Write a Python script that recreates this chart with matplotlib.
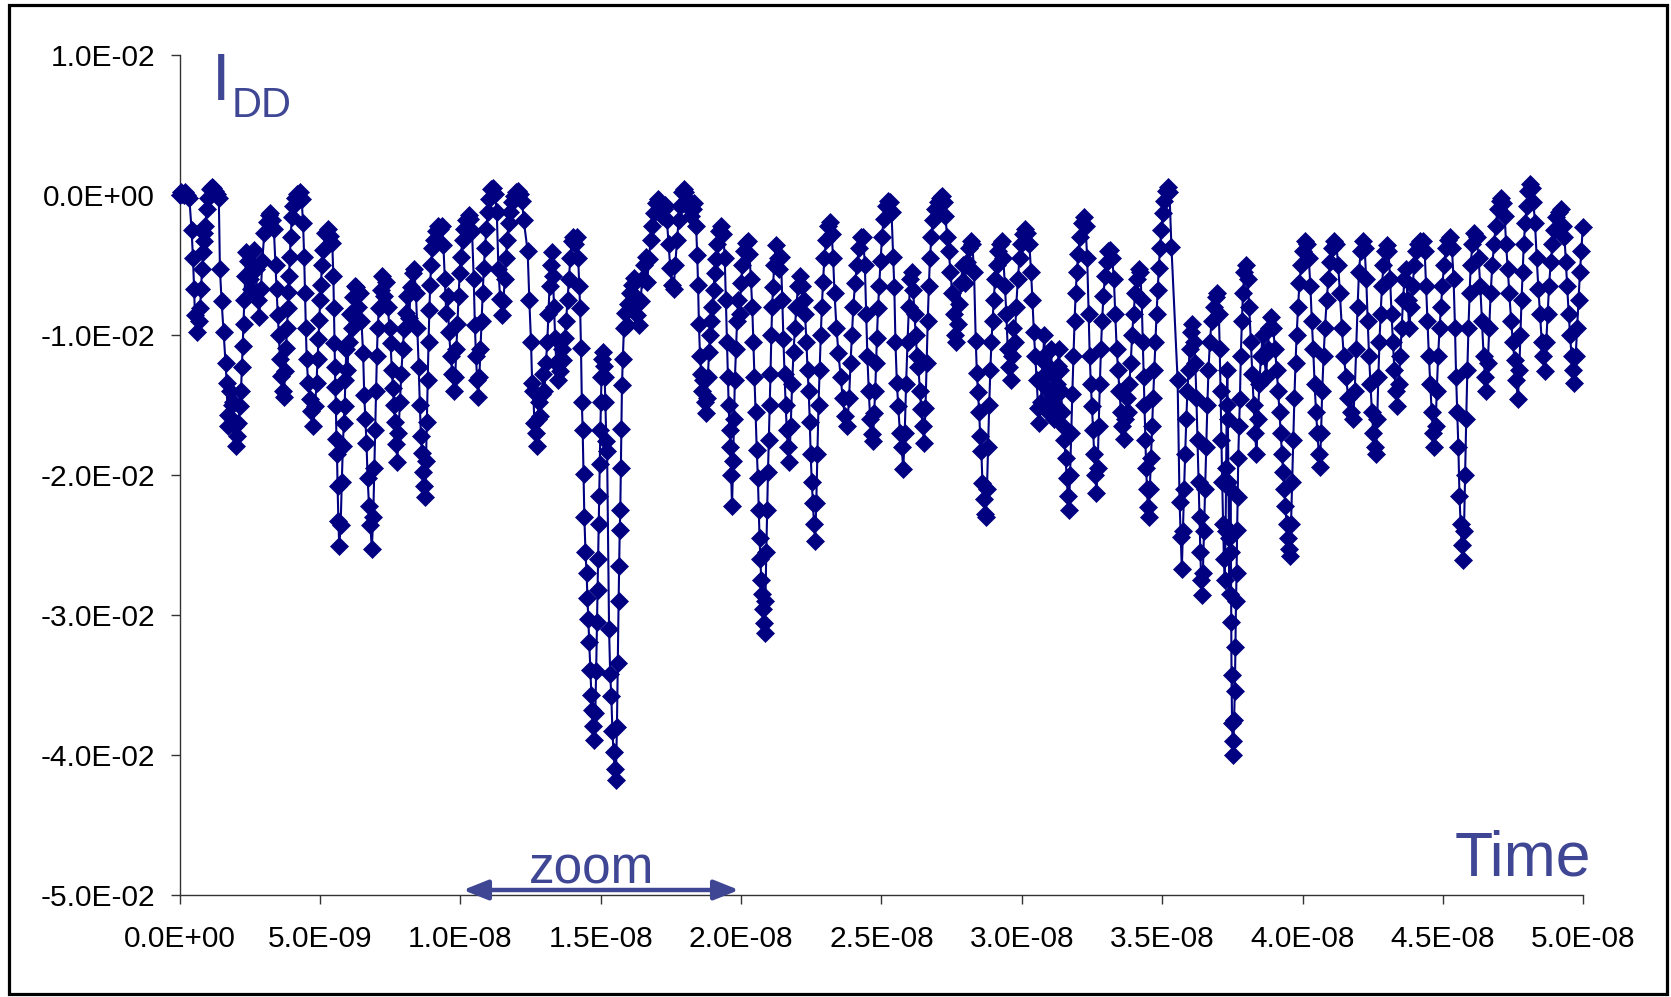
import numpy as np
import matplotlib
matplotlib.use("Agg")
import matplotlib.pyplot as plt
from matplotlib.patches import Rectangle
from matplotlib.lines import Line2D
from matplotlib.ticker import FuncFormatter

# ---- data: (time in ns, I_DD in mA) ----
seg_a = [(0.00, 0.0), (0.05, 0.2), (0.10, 0.1), (0.15, 0.0), (0.20, 0.2), (0.27, 0.0), (0.35, -0.2),
         (0.43, -2.5), (0.48, -4.5), (0.52, -6.7), (0.55, -8.6), (0.61, -9.8), (0.68, -9.0), (0.73, -8.1),
         (0.77, -6.7), (0.80, -5.3), (0.84, -4.1), (0.86, -3.3), (0.89, -2.7), (0.92, -2.2), (0.97, -1.0),
         (1.03, -0.2), (1.09, 0.4), (1.15, 0.6), (1.21, 0.5), (1.27, 0.3), (1.33, 0.1), (1.40, -0.2),
         (1.44, -5.3), (1.50, -7.6), (1.57, -9.8), (1.64, -12.0), (1.68, -13.4), (1.71, -15.7), (1.74, -16.5),
         (1.80, -14.0), (1.86, -15.0), (1.92, -14.8), (1.96, -16.5), (2.00, -17.9), (2.04, -17.2), (2.10, -16.3),
         (2.15, -15.1), (2.19, -14.0), (2.22, -12.3), (2.25, -10.8), (2.28, -9.2), (2.31, -7.5), (2.34, -5.8),
         (2.38, -4.1), (2.44, -4.7), (2.50, -6.0), (2.55, -6.7), (2.60, -5.5), (2.66, -3.9), (2.72, -5.3),
         (2.78, -7.5), (2.84, -8.7), (2.90, -6.7), (2.95, -4.7), (3.02, -2.7), (3.10, -1.9), (3.17, -1.4),
         (3.24, -1.3), (3.30, -1.8), (3.36, -2.4), (3.42, -5.0), (3.46, -6.7), (3.50, -8.6), (3.54, -10.0),
         (3.58, -11.7), (3.63, -12.9), (3.68, -14.0), (3.72, -14.4), (3.76, -12.6), (3.80, -10.9), (3.83, -9.5),
         (3.86, -8.1), (3.88, -6.9), (3.90, -5.8), (3.93, -4.4), (3.96, -3.0), (4.00, -1.6), (4.05, -0.8),
         (4.12, -0.2), (4.20, 0.1), (4.28, 0.2), (4.35, -0.3), (4.40, -2.0), (4.44, -4.4), (4.47, -7.0),
         (4.50, -9.5), (4.53, -11.7), (4.58, -13.4), (4.64, -14.6), (4.70, -15.4), (4.76, -16.5), (4.83, -15.1),
         (4.88, -13.4), (4.92, -11.7), (4.95, -10.3), (4.98, -8.9), (5.01, -7.5), (5.04, -6.4), (5.07, -5.0),
         (5.12, -3.9), (5.20, -2.7), (5.28, -2.4), (5.36, -2.9), (5.44, -3.4), (5.48, -5.8), (5.50, -8.1),
         (5.52, -10.6), (5.54, -12.3), (5.55, -13.7), (5.57, -15.1), (5.59, -17.4), (5.61, -18.5), (5.63, -20.8),
         (5.66, -23.3), (5.69, -25.1), (5.74, -23.6), (5.78, -20.5), (5.82, -17.9), (5.85, -16.3), (5.88, -15.1),
         (5.91, -13.2), (5.94, -11.0), (5.98, -12.5), (6.03, -10.5), (6.08, -8.5), (6.13, -9.5), (6.18, -7.3),
         (6.24, -6.5), (6.30, -6.6), (6.36, -8.0), (6.42, -7.0), (6.48, -9.0)]

seg_b = [(6.54, -11.3), (6.58, -14.3), (6.62, -16.0), (6.66, -17.7), (6.70, -20.2), (6.75, -22.2), (6.80, -23.6),
         (6.85, -25.3), (6.90, -23.0), (6.94, -19.5), (6.97, -16.8), (7.00, -14.0), (7.03, -11.5), (7.06, -9.5),
         (7.10, -8.1), (7.16, -6.8), (7.22, -5.8), (7.30, -7.2), (7.36, -6.2), (7.42, -8.0), (7.48, -9.5),
         (7.52, -10.6), (7.56, -12.5), (7.60, -13.8), (7.64, -15.0), (7.68, -16.2), (7.72, -17.8), (7.76, -19.1),
         (7.80, -17.0), (7.85, -14.8), (7.90, -12.8), (7.95, -11.0), (8.00, -9.6), (8.06, -8.4), (8.12, -7.2),
         (8.18, -8.8), (8.24, -6.6), (8.30, -5.6), (8.36, -5.3), (8.42, -7.0), (8.47, -9.5), (8.52, -12.3),
         (8.56, -15.0), (8.60, -17.2), (8.64, -18.4), (8.67, -19.8), (8.70, -20.8), (8.74, -21.6), (8.78, -19.0),
         (8.81, -16.2), (8.84, -13.2), (8.87, -10.5), (8.90, -8.2), (8.93, -6.4), (8.96, -5.0), (9.00, -3.8),
         (9.05, -3.2), (9.12, -2.6), (9.20, -2.2), (9.28, -2.4), (9.34, -2.2), (9.40, -3.6), (9.45, -6.0),
         (9.50, -8.4), (9.55, -7.2), (9.60, -9.8), (9.66, -11.5), (9.72, -12.8), (9.78, -14.0), (9.82, -13.0),
         (9.86, -11.0), (9.90, -9.2), (9.94, -7.2), (9.98, -5.6), (10.02, -4.4), (10.08, -3.2), (10.14, -2.4),
         (10.22, -1.8), (10.30, -1.4), (10.36, -1.7), (10.42, -2.6), (10.48, -6.0), (10.52, -9.3), (10.56, -11.5),
         (10.60, -13.2), (10.64, -14.4), (10.68, -13.0), (10.72, -11.0), (10.76, -9.0), (10.80, -7.0), (10.84, -5.2),
         (10.88, -3.8), (10.93, -2.4), (10.98, -1.2), (11.04, -0.3), (11.10, 0.4), (11.17, 0.5), (11.24, 0.1),
         (11.30, -1.2), (11.36, -5.3), (11.42, -7.4), (11.48, -8.6), (11.54, -7.6), (11.58, -6.0), (11.62, -4.5),
         (11.67, -3.2), (11.72, -2.0), (11.78, -1.2), (11.85, -0.5), (11.92, -0.1), (12.00, 0.2), (12.07, 0.3),
         (12.14, 0.1), (12.20, -0.4), (12.26, -1.8)]

seg_c = [(12.40, -4.0), (12.46, -7.5), (12.52, -10.5), (12.56, -13.4), (12.60, -14.0), (12.64, -16.3), (12.68, -17.0),
         (12.72, -17.9), (12.76, -16.0), (12.80, -14.8), (12.85, -15.8), (12.90, -14.2), (12.95, -12.8), (13.00, -14.0),
         (13.05, -12.0), (13.10, -10.5), (13.14, -8.5), (13.18, -6.5), (13.22, -5.0), (13.26, -4.1), (13.30, -5.8),
         (13.34, -8.0), (13.38, -10.2), (13.42, -12.0), (13.47, -13.2), (13.52, -11.8), (13.57, -12.6), (13.62, -11.0),
         (13.67, -11.8), (13.72, -10.2), (13.77, -9.0), (13.82, -7.5), (13.87, -6.0), (13.92, -4.5), (13.97, -3.3),
         (14.03, -3.0), (14.09, -3.5), (14.15, -3.0), (14.20, -4.5), (14.24, -6.5), (14.27, -8.1), (14.30, -10.9),
         (14.33, -14.8), (14.36, -16.8), (14.39, -19.9), (14.42, -23.0), (14.46, -25.5), (14.50, -27.0), (14.53, -28.8),
         (14.56, -30.3), (14.59, -31.9), (14.63, -33.9), (14.67, -35.7), (14.70, -36.8), (14.73, -37.9), (14.77, -38.9),
         (14.81, -37.0), (14.84, -34.0), (14.87, -30.5), (14.89, -28.2), (14.91, -26.0), (14.93, -23.5), (14.95, -21.5),
         (14.97, -19.2), (14.99, -16.8), (15.01, -14.8), (15.03, -13.0), (15.05, -11.7), (15.08, -11.2), (15.11, -12.2),
         (15.14, -13.0), (15.17, -14.8), (15.20, -17.6), (15.23, -18.3), (15.30, -31.0), (15.34, -34.2), (15.38, -35.8),
         (15.42, -38.3), (15.46, -39.8), (15.50, -41.0), (15.54, -41.8), (15.58, -38.0), (15.61, -33.4), (15.64, -29.0),
         (15.66, -26.5), (15.68, -23.9), (15.70, -22.5), (15.72, -19.5), (15.74, -16.7), (15.76, -13.6), (15.79, -11.7),
         (15.83, -9.5), (15.88, -8.4), (15.93, -9.3), (15.98, -7.8), (16.03, -7.0), (16.08, -8.0), (16.13, -6.4),
         (16.18, -5.9), (16.24, -7.2), (16.30, -8.6), (16.36, -9.3), (16.42, -7.6), (16.48, -6.0), (16.54, -5.0),
         (16.60, -4.4), (16.66, -6.2), (16.72, -4.6), (16.78, -3.2), (16.84, -2.2), (16.90, -1.3), (16.96, -0.6),
         (17.03, -0.3), (17.10, -0.8), (17.17, -1.5), (17.24, -1.0), (17.30, -0.7), (17.36, -1.8), (17.42, -3.5),
         (17.48, -5.2), (17.54, -6.4), (17.60, -6.7), (17.66, -5.0), (17.72, -3.2), (17.78, -1.8), (17.84, -0.8),
         (17.90, 0.2), (17.96, 0.4), (18.02, 0.2), (18.08, -0.3), (18.15, -0.9), (18.22, -1.5), (18.28, -1.0),
         (18.34, -0.6)]

seg_d = [(18.40, -2.2), (18.44, -4.3), (18.47, -6.4), (18.50, -9.2), (18.54, -11.5), (18.58, -12.8), (18.62, -14.0),
         (18.66, -13.2), (18.70, -14.8), (18.74, -15.6), (18.78, -14.5), (18.82, -13.0), (18.86, -11.2), (18.90, -10.0),
         (18.94, -9.0), (18.98, -8.0), (19.02, -6.8), (19.06, -5.6), (19.10, -4.6), (19.15, -3.5), (19.22, -2.6),
         (19.30, -2.2), (19.37, -2.8), (19.42, -4.5), (19.46, -7.5), (19.50, -10.5), (19.53, -13.0), (19.56, -15.0),
         (19.59, -16.8), (19.62, -18.0), (19.65, -20.0), (19.68, -22.2), (19.72, -19.0), (19.75, -16.0), (19.78, -13.2),
         (19.82, -11.0), (19.86, -9.0), (19.90, -7.5), (19.95, -8.5), (20.00, -6.3), (20.05, -5.0), (20.10, -4.0),
         (20.17, -3.4), (20.24, -3.3), (20.30, -4.2), (20.35, -6.0), (20.40, -8.0), (20.44, -10.5), (20.48, -13.0),
         (20.52, -15.5), (20.56, -18.2), (20.60, -20.2), (20.63, -22.5), (20.66, -24.5), (20.69, -26.0), (20.72, -27.5),
         (20.75, -28.5), (20.78, -29.6), (20.81, -30.6), (20.84, -31.3), (20.87, -29.0), (20.90, -25.5), (20.93, -22.5),
         (20.96, -19.8), (20.99, -17.5), (21.02, -15.0), (21.05, -12.8), (21.08, -10.0), (21.11, -8.0), (21.14, -6.6),
         (21.18, -5.0), (21.24, -3.6), (21.30, -4.5), (21.36, -5.3), (21.42, -4.4), (21.47, -7.5), (21.51, -10.3),
         (21.55, -12.8), (21.59, -15.0), (21.63, -16.8), (21.67, -18.0), (21.72, -19.1), (21.77, -16.5), (21.82, -13.5),
         (21.87, -11.2), (21.92, -9.5), (21.97, -8.0), (22.03, -6.5), (22.10, -5.8), (22.17, -6.5), (22.23, -7.5),
         (22.28, -8.5), (22.33, -10.5), (22.37, -12.5), (22.41, -14.0), (22.45, -16.2), (22.48, -18.5), (22.52, -20.5),
         (22.56, -22.0), (22.60, -23.5), (22.64, -24.7), (22.68, -22.0), (22.72, -18.5), (22.76, -15.0), (22.80, -12.5),
         (22.84, -10.0), (22.88, -8.0), (22.92, -6.2), (22.97, -4.5), (23.03, -3.2), (23.10, -2.2), (23.17, -1.9),
         (23.23, -2.8), (23.28, -4.5), (23.33, -7.0), (23.40, -9.5), (23.47, -11.3), (23.55, -13.0), (23.62, -14.5),
         (23.70, -15.8), (23.78, -16.5), (23.85, -14.5), (23.90, -12.0), (23.95, -10.0), (24.00, -8.0), (24.06, -6.3),
         (24.13, -5.0), (24.20, -3.8), (24.28, -3.0), (24.35, -3.0), (24.41, -5.0), (24.46, -8.5), (24.50, -11.5),
         (24.55, -14.0)]

seg_e = [(24.60, -16.0), (24.65, -17.1), (24.70, -17.6), (24.74, -15.6), (24.78, -14.0), (24.81, -12.0), (24.84, -10.2),
         (24.88, -8.1), (24.92, -6.5), (24.97, -4.7), (25.02, -3.0), (25.08, -1.7), (25.16, -0.8), (25.24, -0.4),
         (25.30, -0.5), (25.36, -1.2), (25.42, -4.4), (25.46, -6.6), (25.50, -10.5), (25.55, -13.4), (25.60, -15.1),
         (25.66, -17.0), (25.72, -18.0), (25.78, -19.6), (25.83, -17.0), (25.88, -13.5), (25.93, -10.5), (25.98, -8.0),
         (26.03, -6.0), (26.08, -5.5), (26.13, -6.8), (26.18, -8.5), (26.22, -10.0), (26.27, -11.5), (26.32, -12.3),
         (26.37, -14.0), (26.42, -15.3), (26.47, -16.5), (26.52, -17.7), (26.57, -15.2), (26.61, -12.0), (26.65, -9.0),
         (26.69, -6.5), (26.73, -4.5), (26.78, -3.0), (26.84, -1.8), (26.92, -1.0), (27.00, -0.5), (27.08, -0.2),
         (27.15, -0.1), (27.22, -0.5), (27.28, -1.5), (27.34, -3.0), (27.40, -4.0), (27.46, -5.5), (27.52, -7.0),
         (27.57, -8.5), (27.62, -10.0), (27.67, -10.5), (27.72, -9.2), (27.77, -7.8), (27.83, -6.3), (27.90, -5.0),
         (27.97, -6.3), (28.04, -4.8), (28.11, -3.8), (28.18, -3.3), (28.24, -3.5), (28.30, -5.5), (28.36, -10.4),
         (28.40, -12.7), (28.44, -14.1), (28.48, -15.5), (28.52, -17.2), (28.56, -18.3), (28.60, -20.6), (28.64, -21.7),
         (28.68, -22.8), (28.72, -23.0), (28.76, -21.0), (28.80, -18.0), (28.84, -15.0), (28.88, -12.5), (28.92, -10.5),
         (28.96, -9.0), (29.00, -7.5), (29.05, -6.0), (29.10, -5.0), (29.16, -4.0), (29.22, -3.5), (29.28, -3.3),
         (29.34, -4.5), (29.40, -6.5), (29.45, -8.5), (29.50, -11.0), (29.55, -12.3), (29.60, -13.2), (29.65, -11.5),
         (29.70, -9.5), (29.75, -10.5), (29.80, -8.0), (29.86, -6.0), (29.92, -4.5), (29.98, -3.5), (30.05, -2.8),
         (30.12, -2.4), (30.20, -2.7), (30.27, -3.5), (30.33, -5.5), (30.38, -7.5), (30.43, -9.8), (30.48, -11.5),
         (30.53, -13.2), (30.58, -15.2), (30.63, -16.3), (30.68, -14.8), (30.72, -13.0)]

seg_f = [(30.76, -11.6), (30.80, -10.0), (30.84, -12.0), (30.88, -13.8), (30.92, -15.5), (30.96, -14.0), (31.00, -12.5),
         (31.04, -11.0), (31.08, -12.8), (31.12, -14.5), (31.16, -16.0), (31.20, -15.0), (31.24, -13.5), (31.28, -12.2),
         (31.32, -11.0), (31.36, -12.5), (31.40, -14.0), (31.44, -15.5), (31.48, -16.5), (31.52, -17.5), (31.56, -18.8),
         (31.60, -20.2), (31.64, -21.5), (31.68, -22.5), (31.72, -20.0), (31.76, -17.0), (31.80, -14.2), (31.84, -11.5),
         (31.88, -9.0), (31.92, -7.0), (31.96, -5.5), (32.01, -4.2), (32.07, -3.0), (32.13, -2.0), (32.20, -1.6),
         (32.27, -2.2), (32.33, -4.5), (32.38, -8.5), (32.42, -11.5), (32.46, -13.5), (32.50, -15.1), (32.54, -16.8),
         (32.58, -18.5), (32.62, -20.0), (32.66, -21.3), (32.70, -19.5), (32.74, -16.5), (32.78, -13.5), (32.82, -11.0),
         (32.86, -9.0), (32.91, -7.2), (32.96, -5.8), (33.02, -4.8), (33.08, -4.0), (33.15, -3.9), (33.22, -4.5),
         (33.28, -6.0), (33.33, -8.5), (33.38, -11.0), (33.43, -12.5), (33.48, -14.0), (33.53, -15.5), (33.58, -16.5),
         (33.63, -17.4), (33.68, -16.0), (33.73, -14.5), (33.78, -15.5), (33.83, -13.5), (33.88, -12.0), (33.93, -10.0),
         (33.98, -8.5), (34.04, -7.0), (34.10, -6.0), (34.16, -5.3), (34.22, -5.5), (34.27, -7.5), (34.31, -10.5),
         (34.34, -13.0), (34.37, -15.0), (34.40, -17.5), (34.43, -19.5), (34.46, -21.0), (34.49, -22.3), (34.52, -23.0),
         (34.56, -21.0), (34.60, -18.8), (34.64, -16.5), (34.68, -14.5), (34.72, -12.5), (34.76, -10.5), (34.80, -8.5),
         (34.84, -6.8), (34.88, -5.2), (34.92, -3.8), (34.97, -2.5), (35.02, -1.3), (35.08, -0.4), (35.14, 0.3),
         (35.20, 0.6), (35.26, 0.2), (35.33, -3.7), (35.55, -13.2), (35.62, -21.9), (35.66, -24.4), (35.70, -26.7),
         (35.74, -24.0), (35.78, -21.0), (35.82, -18.5), (35.86, -16.0), (35.90, -14.0), (35.94, -12.5), (35.98, -11.0),
         (36.03, -9.8), (36.08, -9.2), (36.13, -10.5), (36.18, -12.0), (36.22, -14.5), (36.26, -17.5), (36.30, -20.5),
         (36.33, -23.0), (36.36, -25.5), (36.39, -27.5), (36.42, -28.6), (36.45, -27.0), (36.49, -24.0), (36.53, -21.0),
         (36.57, -18.0), (36.61, -15.0), (36.65, -12.5), (36.70, -10.5), (36.76, -9.0), (36.83, -8.0), (36.90, -7.3),
         (36.97, -7.0), (37.02, -8.5)]

seg_g = [(37.05, -11.0), (37.08, -14.0), (37.11, -17.5), (37.14, -20.5), (37.17, -23.5), (37.20, -26.0), (37.23, -27.5),
         (37.26, -24.0), (37.28, -19.5), (37.30, -15.0), (37.32, -12.5), (37.34, -16.0), (37.36, -20.5), (37.38, -24.5),
         (37.40, -28.5), (37.42, -24.0), (37.43, -21.0), (37.45, -25.5), (37.46, -30.5),
         (37.47, -34.3), (37.49, -37.7), (37.51, -39.0), (37.53, -40.0), (37.56, -37.5), (37.59, -35.4), (37.61, -32.3),
         (37.63, -29.0), (37.65, -27.0), (37.67, -23.9), (37.69, -21.6), (37.71, -18.8), (37.74, -16.5), (37.77, -14.6),
         (37.80, -11.5), (37.84, -9.0), (37.88, -7.0), (37.93, -5.5), (37.98, -5.0), (38.04, -6.0), (38.10, -8.0),
         (38.16, -10.5), (38.21, -12.8), (38.26, -15.0), (38.31, -17.0), (38.36, -18.5), (38.41, -16.0), (38.46, -13.5),
         (38.52, -11.5), (38.58, -10.0), (38.64, -11.5), (38.70, -13.0), (38.76, -11.0), (38.82, -9.5), (38.88, -8.7),
         (38.95, -9.5), (39.02, -11.0), (39.08, -12.5), (39.13, -14.0), (39.18, -15.5), (39.22, -17.0), (39.27, -18.5),
         (39.31, -19.8), (39.35, -21.0), (39.39, -22.2), (39.43, -23.5), (39.47, -24.5), (39.51, -25.3), (39.55, -25.8),
         (39.59, -23.5), (39.63, -20.5), (39.67, -17.5), (39.71, -14.5), (39.75, -12.0), (39.79, -10.0), (39.84, -8.0),
         (39.89, -6.3), (39.95, -5.0), (40.01, -4.0), (40.08, -3.3), (40.15, -3.5), (40.22, -4.5), (40.28, -6.5),
         (40.33, -9.0), (40.38, -11.0), (40.43, -13.5), (40.48, -15.5), (40.53, -17.0), (40.58, -18.5), (40.62, -19.4),
         (40.66, -17.0), (40.70, -14.0), (40.75, -11.5), (40.80, -9.5), (40.86, -7.5), (40.92, -6.0), (40.99, -4.8),
         (41.06, -3.8), (41.13, -3.3), (41.20, -3.5), (41.27, -5.0), (41.33, -7.0), (41.40, -9.5), (41.47, -11.5),
         (41.55, -13.0), (41.63, -14.5), (41.72, -15.5), (41.80, -16.0), (41.86, -14.0), (41.91, -11.0), (41.96, -8.0),
         (42.01, -5.5), (42.07, -4.0), (42.14, -3.3), (42.21, -3.8), (42.27, -6.0), (42.32, -9.0), (42.37, -11.5),
         (42.42, -13.5), (42.47, -15.5), (42.52, -17.0), (42.57, -18.0), (42.62, -18.5), (42.66, -16.0), (42.70, -13.0),
         (42.74, -10.5), (42.78, -8.5), (42.83, -6.5), (42.88, -5.0), (42.94, -4.0), (43.00, -3.6), (43.06, -4.0),
         (43.12, -6.0), (43.17, -8.5), (43.22, -10.5), (43.27, -12.5)]

seg_h = [(43.32, -14.0), (43.38, -15.1), (43.43, -13.5), (43.48, -11.5), (43.53, -9.5), (43.58, -7.5), (43.63, -6.0),
         (43.68, -5.3), (43.74, -7.5), (43.80, -9.5), (43.86, -8.0), (43.92, -6.5), (43.98, -5.0), (44.05, -4.0),
         (44.12, -3.5), (44.20, -3.3), (44.28, -3.3), (44.35, -4.0), (44.40, -6.5), (44.45, -9.0), (44.50, -11.5),
         (44.55, -13.5), (44.60, -15.5), (44.65, -17.0), (44.70, -18.0), (44.74, -16.5), (44.78, -14.0), (44.83, -11.5),
         (44.88, -9.5), (44.93, -8.0), (44.98, -6.5), (45.04, -5.0), (45.11, -3.8), (45.18, -3.2), (45.25, -3.0),
         (45.32, -3.8), (45.38, -6.0), (45.43, -9.5), (45.47, -13.0), (45.51, -15.5), (45.55, -18.0), (45.59, -21.5),
         (45.63, -23.5), (45.67, -25.0), (45.71, -26.1), (45.75, -24.0), (45.79, -20.0), (45.83, -16.0), (45.87, -12.5),
         (45.91, -9.5), (45.95, -7.0), (45.99, -5.0), (46.05, -3.5), (46.12, -2.7), (46.20, -3.0), (46.27, -4.5),
         (46.33, -6.5), (46.39, -9.0), (46.45, -11.5), (46.50, -13.0), (46.55, -14.0), (46.60, -12.0), (46.65, -9.5),
         (46.70, -7.0), (46.76, -5.0), (46.82, -3.5), (46.88, -2.2), (46.95, -1.0), (47.02, -0.4), (47.08, -0.2),
         (47.14, -0.6), (47.20, -1.5), (47.25, -3.5), (47.31, -5.3), (47.37, -7.0), (47.43, -9.0), (47.49, -10.5),
         (47.55, -11.8), (47.61, -13.2), (47.67, -14.6), (47.72, -12.5), (47.76, -10.0), (47.80, -7.5), (47.84, -5.5),
         (47.88, -3.5), (47.93, -2.0), (47.98, -0.8), (48.04, 0.3), (48.10, 0.8), (48.16, 0.5), (48.22, -0.5),
         (48.28, -2.0), (48.34, -4.5), (48.40, -6.7), (48.46, -8.5), (48.52, -10.5), (48.58, -11.5), (48.63, -12.6),
         (48.68, -10.5), (48.73, -8.5), (48.78, -6.5), (48.84, -4.8), (48.90, -3.5), (48.97, -2.5), (49.04, -1.6),
         (49.12, -1.2), (49.20, -1.0), (49.27, -2.2), (49.33, -3.0), (49.38, -4.8), (49.43, -6.5), (49.48, -8.5),
         (49.53, -10.0), (49.58, -11.5), (49.63, -12.5), (49.68, -13.4), (49.73, -11.5), (49.78, -9.5), (49.83, -7.5),
         (49.88, -5.5), (49.93, -4.0), (49.98, -2.3)]

x_ticks = [0.0, 5e-9, 1e-8, 1.5e-8, 2e-8, 2.5e-8, 3e-8, 3.5e-8, 4e-8, 4.5e-8, 5e-8]
y_ticks = [0.01, 0.0, -0.01, -0.02, -0.03, -0.04, -0.05]

# ---- figure ----
LINE = "#000080"
TXT = "#3F4795"
plt.rcParams["font.family"] = ["Liberation Sans", "DejaVu Sans"]

fig = plt.figure(figsize=(16.71, 9.97), dpi=100)
fig.patch.set_facecolor("white")
fig.add_artist(Rectangle((8.5 / 1671, 1 - 994 / 997), (1667 - 8.5) / 1671, (994 - 5.5) / 997,
                         transform=fig.transFigure, fill=False, edgecolor="black", linewidth=2.3))

ax = fig.add_axes([179.5 / 1671, 1 - 895 / 997, (1583.3 - 179.5) / 1671, (895 - 55) / 997])
ax.set_facecolor("none")

pts = seg_a + seg_b + seg_c + seg_d + seg_e + seg_f + seg_g + seg_h
t = np.array([p[0] for p in pts]) * 1e-9
i = np.array([p[1] for p in pts]) * 1e-3
ax.plot(t, i, color=LINE, lw=1.5, marker="D", ms=9, mfc=LINE, mec=LINE, mew=0.5, clip_on=False, zorder=3)

ax.set_xlim(0, 5e-8)
ax.set_ylim(-0.05, 0.01)
ax.set_xticks(x_ticks)
ax.set_yticks(y_ticks)
fmt = FuncFormatter(lambda v, p: "{:.1E}".format(0.0 if abs(v) < 1e-15 else v))
ax.xaxis.set_major_formatter(fmt)
ax.yaxis.set_major_formatter(fmt)
for s in ("top", "right"):
    ax.spines[s].set_visible(False)
for s in ("left", "bottom"):
    ax.spines[s].set_color("#333333")
    ax.spines[s].set_linewidth(1.0)
ax.tick_params(axis="both", direction="out", length=6.5, width=1.0, color="#333333", labelsize=21.5, labelcolor="black")
ax.tick_params(axis="y", pad=11)
ax.tick_params(axis="x", pad=15)

# labels
fig.text(212 / 1671, 1 - 100 / 997, "I", fontsize=48, color=TXT, ha="left", va="baseline")
fig.text(232 / 1671, 1 - 117 / 997, "DD", fontsize=30, color=TXT, ha="left", va="baseline")
fig.text(1455 / 1671, 1 - 875 / 997, "Time", fontsize=45, color=TXT, ha="left", va="baseline")
fig.text(592 / 1671, 1 - 883 / 997, "zoom", fontsize=37, color=TXT, ha="center", va="baseline")

# double-headed arrow under "zoom"
ya = 1 - 890 / 997
ax_arrow = fig.add_axes([0, 0, 1, 1], facecolor="none")
ax_arrow.set_axis_off()
ax_arrow.set_xlim(0, 1)
ax_arrow.set_ylim(0, 1)
ax_arrow.annotate("", xy=(739 / 1671, ya), xytext=(463 / 1671, ya),
                  arrowprops=dict(arrowstyle="<|-|>,head_length=0.75,head_width=0.3",
                                  color=TXT, lw=3.2, mutation_scale=20, shrinkA=0, shrinkB=0))
ax_arrow.add_line(Line2D([480 / 1671, 722 / 1671], [ya, ya], color="white", lw=0.8))

fig.savefig("out.png", dpi=100, facecolor="white")
